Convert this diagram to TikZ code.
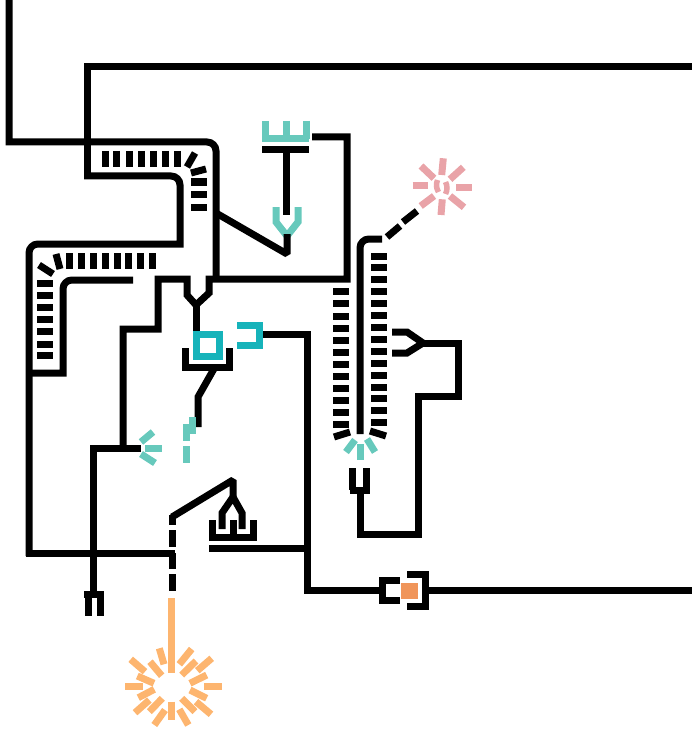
\documentclass[tikz,border=0pt]{standalone}
\definecolor{ink}{HTML}{000000}
\definecolor{teal1}{HTML}{67C9BC}
\definecolor{cyan1}{HTML}{16B3BA}
\definecolor{pink1}{HTML}{E9A3A8}
\definecolor{orange1}{HTML}{FDB56F}
\definecolor{orange2}{HTML}{F0955A}
\tikzset{
  wire/.style={draw=ink,line width=7pt,line join=miter,miter limit=10},
  tealline/.style={draw=teal1,line width=7pt},
  cyanline/.style={draw=cyan1,line width=7pt},
  pinkline/.style={draw=pink1,line width=7pt},
  orangeline/.style={draw=orange1,line width=7pt}
}
\begin{document}
\begin{tikzpicture}[x=1pt,y=-1pt]
\useasboundingbox (0,0) rectangle (692,730);
% teal under wires
\draw[tealline] (276,207) -- (276,222) -- (287,236) -- (298,222) -- (298,207);
% long wires
\draw[wire] (9,0) -- (9,142) -- (207,142) .. controls (212,142) and (216,146) .. (216,151) -- (216,281);
\draw[wire] (692,67) -- (87,67) -- (87,179);
\draw[wire] (84,176) -- (171,176) .. controls (176,176) and (180,180) .. (180,185) -- (180,244) -- (38,244) .. controls (33,244) and (29,248) .. (29,253) -- (29,556);
\draw[wire] (26,553) -- (175,553);
\draw[wire] (133,280) -- (72,280) .. controls (67,280) and (63,284) .. (63,289) -- (63,373) -- (29,373);
\draw[wire] (123,447) -- (123,329) -- (158,329) -- (158,279) -- (187,279) -- (187,295) -- (196,305) -- (209,293) -- (209,279) -- (347,279) -- (347,137) -- (312,137);
\draw[wire] (196,305) -- (196,332);
\draw[wire,miter limit=2] (216,213) -- (287,254) -- (287,234);
\draw[wire] (286,150) -- (286,215);
\draw[wire] (262,150) -- (309,150);
\draw[wire] (259,334) -- (307,334) -- (307,590) -- (380,590);
\draw[wire] (185,348) -- (185,370);
\draw[wire] (229,348) -- (229,370);
\draw[wire] (182,367) -- (233,367);
\draw[wire] (215,367) -- (198,397) -- (198,427);
\draw[wire] (93,594) -- (93,448) -- (141,448);
\draw[wire] (84,594) -- (104,594);
\draw[wire] (88,594) -- (88,616);
\draw[wire] (100,594) -- (100,616);
\draw[wire,miter limit=2] (172,517) -- (233,480) -- (233,500);
\draw[wire] (222,529) -- (222,513) -- (233,497) -- (242,513) -- (242,529);
\draw[wire] (233,520) -- (233,540);
\draw[wire] (212,520) -- (212,541);
\draw[wire] (253,520) -- (253,541);
\draw[wire] (212,537) -- (253,537);
\draw[wire] (209,548) -- (307,548);
\foreach \a/\b in {515/525,530/547,553/569,574/591}{\draw[wire] (172,\a) -- (172,\b);}
\draw[wire] (427,590) -- (692,590);
\draw[wire] (400,580) -- (382,580) -- (382,600) -- (400,600);
\draw[wire] (407,574) -- (425,574) -- (425,606) -- (407,606);
\draw[wire] (382,239) -- (369,239) .. controls (364,239) and (360,243) .. (360,248) -- (360,434);
\draw[wire] (387,237) -- (400,226);
\draw[wire] (403,222) -- (417,211);
\draw[wire] (352,468) -- (352,490);
\draw[wire] (366,468) -- (366,490);
\draw[wire] (350,490) -- (370,490);
\draw[wire] (360,490) -- (360,534) -- (418,534) -- (418,396) -- (458,396) -- (458,343) -- (423,343);
\draw[wire] (392,332) -- (407,332) -- (423,343) -- (407,353) -- (392,353);
% tick rows
\foreach \x in {105,116,129,141,153,165,177}{\draw[wire] (\x,151) -- (\x,167);}
\draw[wire] (195,153) -- (187,167);
\draw[wire] (191,173) -- (206,169);
\foreach \y in {182,194,207}{\draw[wire] (191,\y) -- (207,\y);}
\foreach \x in {69,81,93,105,117,128,140,152}{\draw[wire] (\x,253) -- (\x,269);}
\draw[wire] (56,254) -- (60,269);
\draw[wire] (39,265) -- (53,274);
\foreach \y in {283,295,307,319,331,344,355}{\draw[wire] (37,\y) -- (53,\y);}
\foreach \y in {291,303,316,328,340,352,364,376,388,400,412,424}{\draw[wire] (333,\y) -- (349,\y);}
\foreach \y in {256,267,279,291,303,315,327,339,351,363,375,387,398,410,422}{\draw[wire] (371,\y) -- (387,\y);}
\draw[wire] (334,437) -- (350,432);
\draw[wire] (370,431) -- (386,436);
% cyan
\draw[cyanline] (219,331) -- (219,356) -- (196,356) -- (196,334) -- (222,334);
\draw[cyanline] (237,325) -- (259,325) -- (259,345) -- (237,345);
% teal
\draw[tealline] (265,121) -- (265,139);
\draw[tealline] (286,121) -- (286,139);
\draw[tealline] (306,121) -- (306,139);
\draw[tealline] (262,139) -- (309,139);
\draw[tealline] (192,417) -- (192,434);
\draw[tealline] (186,424) -- (186,441);
\draw[tealline] (186,446) -- (186,463);
\draw[tealline] (141,442) -- (153,432);
\draw[tealline] (145,448) -- (162,448);
\draw[tealline] (141,454) -- (155,463);
\draw[tealline] (360,444) -- (360,460);
\draw[tealline] (346,452) -- (355,440);
\draw[tealline] (375,452) -- (367,439);
% pink burst
\foreach \a/\b/\c/\d in {443.3/158.3/441.7/175,463.3/167.3/450/179.3,456/187.7/471.7/187.7,450/196/464/207.3,442.3/199.3/441/215,434/196/420.7/206,412.7/185.7/428.3/185.7,421/166/434/178.3}{\draw[pinkline] (\a,\b) -- (\c,\d);}
\draw[pink1,line width=5.5pt] (437.5,180) .. controls (436,184) and (436,188) .. (438.5,192);
\draw[pink1,line width=5.5pt] (445.5,182) .. controls (447.5,186) and (447.5,190) .. (445.5,194);
% orange burst
\draw[orangeline] (171,598) -- (171,673);
\foreach \a/\b/\c/\d in {159.3/648.3/164/664.3,130.7/659.3/145/671.7,150/661.7/161.7/675.7,137.3/676/154/683.3,125/686.3/143/686.3,138.3/697.7/154.3/689.3,135/712.7/149.3/700,149.3/711.7/162.3/698.3,154.3/725/165/710,171.3/701.7/171.3/720,179.3/709.3/188.3/725,181.7/698.3/195/711.7,196/701.7/211/714.3,190/690/206.7/698.3,204/686.3/222/686.3,190/683.3/206.7/675,197.3/670.7/211.7/658.3,181.7/675/196/661,179.3/664.3/191.7/649}{\draw[orangeline] (\a,\b) -- (\c,\d);}
\fill[orange2] (401,583) rectangle (418,599);
\end{tikzpicture}
\end{document}
